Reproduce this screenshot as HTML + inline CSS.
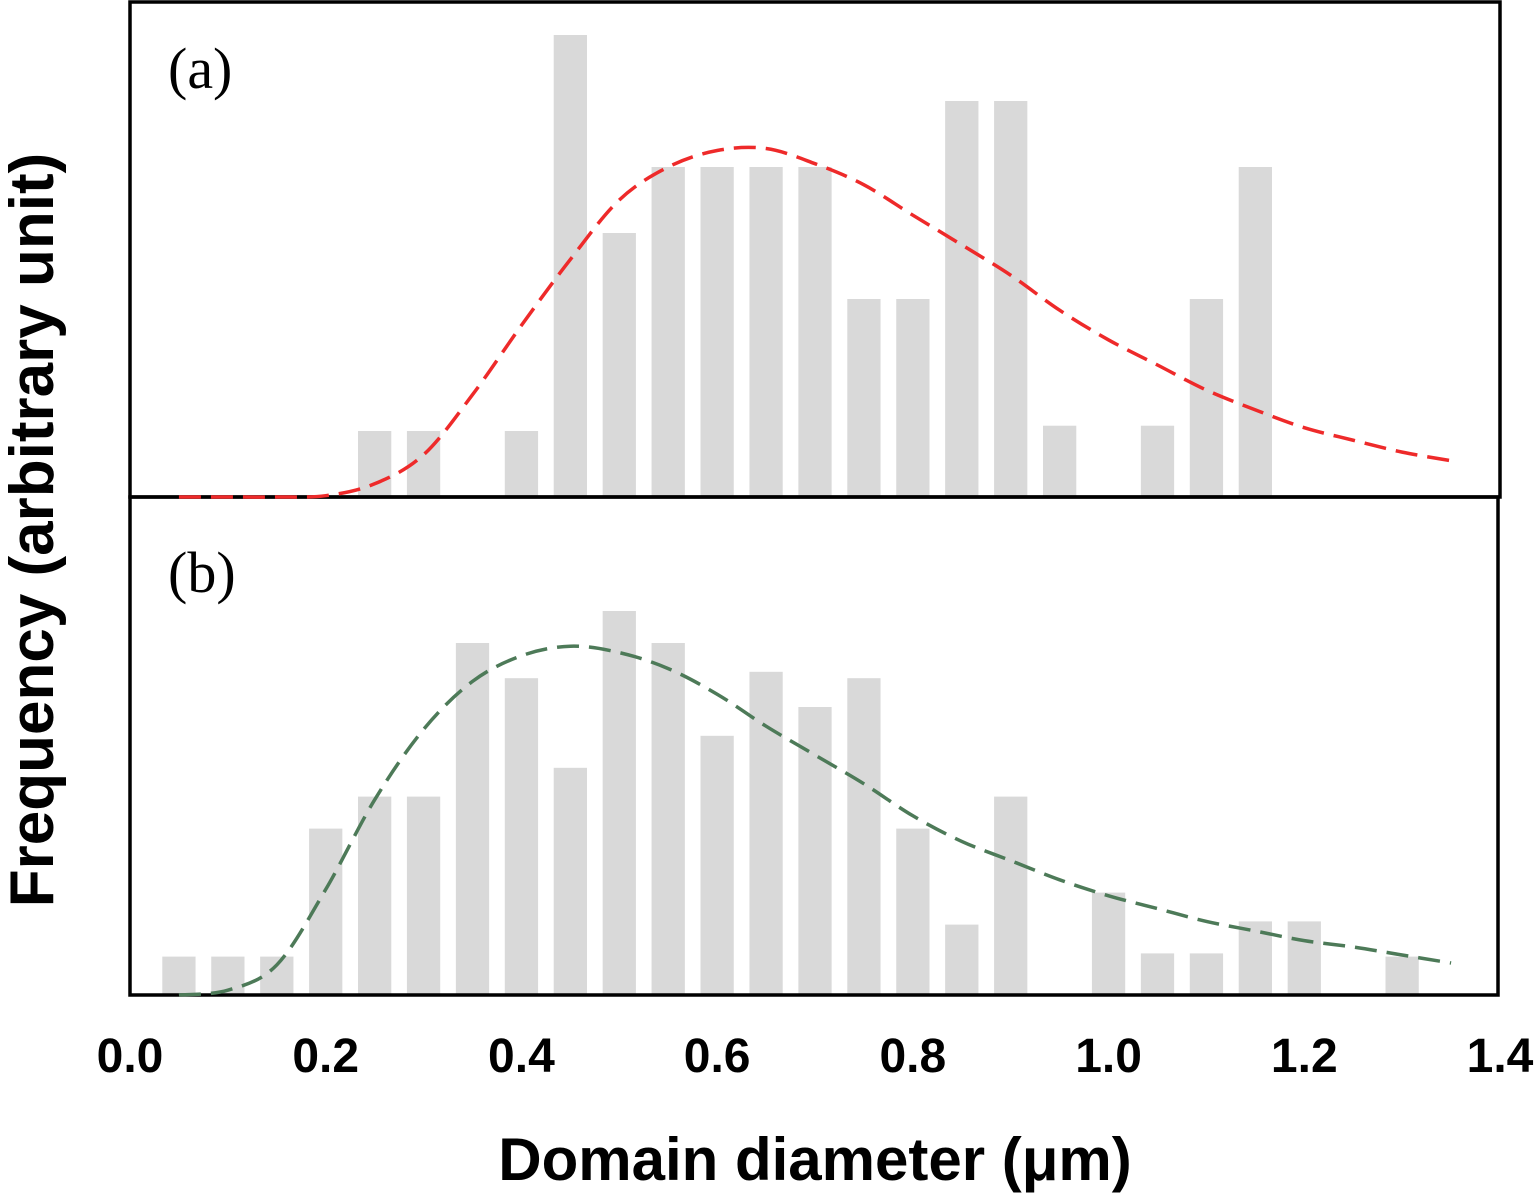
<!DOCTYPE html>
<html><head><meta charset="utf-8"><style>
html,body{margin:0;padding:0;background:#fff;}
svg{display:block;}
</style></head><body>
<svg id="chart" width="1535" height="1193" viewBox="0 0 1535 1193" xmlns="http://www.w3.org/2000/svg">
<g id="bars-a"></g>
<g id="bars-b"></g>
<rect x="130" y="2" width="1370" height="495" fill="none" stroke="#000" stroke-width="3.5"/>
<rect x="130" y="497" width="1368" height="498" fill="none" stroke="#000" stroke-width="3.5"/>
<path id="curve-a" fill="none" stroke="#ee2a2a" stroke-width="3.5" stroke-dasharray="22,10"/>
<path id="curve-b" fill="none" stroke="#4d7a58" stroke-width="3.5" stroke-dasharray="22,10"/>
<text x="168" y="88" font-family="Liberation Serif, serif" font-size="58">(a)</text>
<text x="168" y="592" font-family="Liberation Serif, serif" font-size="58">(b)</text>
<g id="xticks" font-family="Liberation Sans, sans-serif" font-weight="bold" font-size="48" text-anchor="middle"></g>
<text x="815" y="1180" font-family="Liberation Sans, sans-serif" font-weight="bold" font-size="60" text-anchor="middle">Domain diameter (μm)</text>
<text transform="translate(53,530) rotate(-90)" font-family="Liberation Sans, sans-serif" font-weight="bold" font-size="62" text-anchor="middle">Frequency (arbitrary unit)</text>
</svg>
<script>
const binsA = [0.25,0.30,0.40,0.45,0.50,0.55,0.60,0.65,0.70,0.75,0.80,0.85,0.90,0.95,1.05,1.10,1.15];
const countsA = [1,1,1,7,4,5,5,5,5,3,3,6,6,1.08,1.08,3,5];
const binsB = [0.05,0.10,0.15,0.20,0.25,0.30,0.35,0.40,0.45,0.50,0.55,0.60,0.65,0.70,0.75,0.80,0.85,0.90,1.00,1.05,1.10,1.15,1.20,1.30];
const countsB = [1.2,1.2,1.2,5.2,6.2,6.2,11,9.9,7.1,12,11,8.1,10.1,9,9.9,5.2,2.2,6.2,3.2,1.3,1.3,2.3,2.3,1.2];
const curveX = [0.05,0.10,0.15,0.20,0.25,0.30,0.35,0.40,0.45,0.50,0.55,0.60,0.65,0.70,0.75,0.80,0.85,0.90,0.95,1.00,1.05,1.10,1.15,1.20,1.25,1.30,1.35];
const curveA = [0,0,0,0.02,0.2,0.64,1.55,2.6,3.6,4.5,5.0,5.25,5.28,5.05,4.73,4.27,3.82,3.36,2.83,2.38,2.0,1.62,1.32,1.05,0.86,0.68,0.55];
const curveB = [0,0.15,0.94,3.3,6.1,8.3,9.8,10.6,10.9,10.7,10.2,9.4,8.4,7.5,6.6,5.6,4.8,4.2,3.6,3.1,2.7,2.3,2.0,1.7,1.5,1.25,1.0];
const xTicks = ["0.0","0.2","0.4","0.6","0.8","1.0","1.2","1.4"];

const NS="http://www.w3.org/2000/svg";
const X = v => 130 + v*(1370/1.4);
const YA = v => 497 - v*66;
const YB = v => 995 - v*32;
const barW = 0.034*(1370/1.4);

function drawBars(gid, bins, counts, Y, base, name){
  const g=document.getElementById(gid);
  bins.forEach((b,i)=>{
    const r=document.createElementNS(NS,'rect');
    
    
    const y=Y(counts[i]);
    r.setAttribute('x', X(b)-barW/2);
    r.setAttribute('y', y);
    r.setAttribute('width', barW);
    r.setAttribute('height', base-y);
    r.setAttribute('fill', '#d9d9d9');
    g.appendChild(r);
  });
}
drawBars('bars-a', binsA, countsA, YA, 497, 'bar-a');
drawBars('bars-b', binsB, countsB, YB, 995, 'bar-b');

function smoothPath(xs, ys, Y){
  const p = xs.map((x,i)=>[X(x), Y(ys[i])]);
  let d = `M${p[0][0]},${p[0][1]}`;
  for(let i=0;i<p.length-1;i++){
    const p0=p[Math.max(0,i-1)], p1=p[i], p2=p[i+1], p3=p[Math.min(p.length-1,i+2)];
    const c1=[p1[0]+(p2[0]-p0[0])/6, p1[1]+(p2[1]-p0[1])/6];
    const c2=[p2[0]-(p3[0]-p1[0])/6, p2[1]-(p3[1]-p1[1])/6];
    d += ` C${c1[0]},${c1[1]} ${c2[0]},${c2[1]} ${p2[0]},${p2[1]}`;
  }
  return d;
}
document.getElementById('curve-a').setAttribute('d', smoothPath(curveX, curveA, YA));
document.getElementById('curve-b').setAttribute('d', smoothPath(curveX, curveB, YB));

const tg=document.getElementById('xticks');
xTicks.forEach(t=>{
  const el=document.createElementNS(NS,'text');
  
  
  el.setAttribute('x', X(parseFloat(t)));
  el.setAttribute('y', 1072);
  el.textContent=t;
  tg.appendChild(el);
});
</script>
</body></html>
